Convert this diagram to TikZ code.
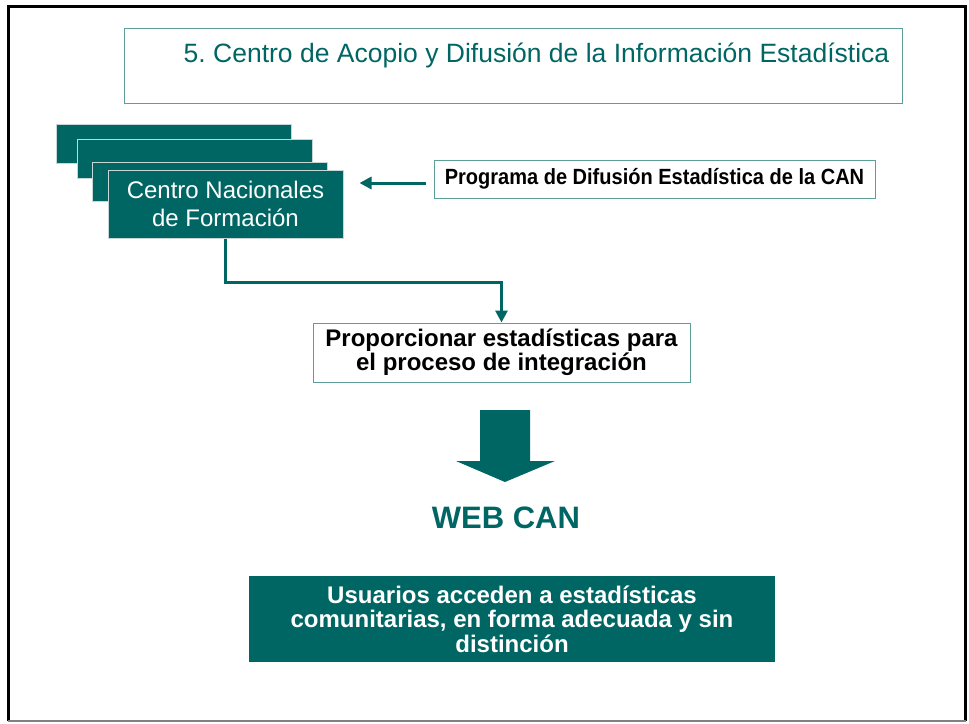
\documentclass[tikz,border=0pt]{standalone}
\usepackage{fontspec}
\setmainfont{Liberation Sans}
\newfontfamily\narrowfont{Liberation Sans}[FakeStretch=0.91]
\usepackage{xcolor}
\definecolor{canTeal}{HTML}{006663}
\definecolor{canBorder}{HTML}{5E9E99}
\definecolor{canEdge}{HTML}{C8D6D5}
\usepackage{tikz}
\usetikzlibrary{arrows.meta,positioning,calc}
\frenchspacing
\tikzset{
    titlebox/.style={
        draw=canBorder,
        fill=white,
        rectangle,
        line width=1pt,
        minimum width=778pt,
        minimum height=75pt
    },
    stackbox/.style={
        draw=canEdge,
        fill=canTeal,
        rectangle,
        line width=1pt,
        minimum width=235pt,
        minimum height=39pt
    },
    centro/.style={
        draw=canEdge,
        fill=canTeal,
        rectangle,
        line width=1pt,
        align=center,
        minimum width=235pt,
        minimum height=68pt,
        text=white,
        font=\fontsize{24}{28}\selectfont
    },
    infobox/.style={
        draw=canBorder,
        fill=white,
        rectangle,
        line width=1pt,
        align=center,
        inner sep=0pt,
        font=\bfseries
    },
    resultbox/.style={
        fill=canTeal,
        rectangle,
        align=center,
        inner sep=0pt,
        text=white,
        font=\bfseries\fontsize{24}{24.5}\selectfont
    },
    arrow/.style={
        -{Triangle[length=12pt,width=12pt]},
        line width=3pt,
        color=canTeal
    }
}

\begin{document}
\begin{tikzpicture}[x=1pt,y=-1pt]
    \useasboundingbox (0,0) rectangle (969,723);
    % Page frame
    \draw[black, line width=3pt] (8,721) -- (8,6) -- (965.5,6) -- (965.5,721);
    \draw[gray, line width=1.5pt] (8,721) -- (965.5,721);

    % Title
    \node[titlebox] (titlebox) at (513,65.5) {};
    \node[anchor=base, text=canTeal, inner sep=0pt, font=\fontsize{26.5}{30}\selectfont] (title) at (536.5,62)
        {5. Centro de Acopio y Difusión de la Información Estadística};

    % Stacked centres
    \foreach \sx/\sy [count=\i] in {56/124, 77/139, 92/162} {
        \node[stackbox] (stack\i) at (\sx+117.5,\sy+19.5) {};
    }
    \node[centro] (centro) at (225.5,204) {Centro Nacionales\\de Formación};

    % Programme box
    \node[infobox, minimum width=441pt, minimum height=38pt, font=\narrowfont\bfseries\fontsize{22}{24}\selectfont] (programa) at (654.5,179)
        {Programa de Difusión Estadística de la CAN};
    \draw[arrow] ([xshift=-8pt,yshift=-4pt]programa.west) -- ([xshift=16pt,yshift=-4pt]programa.west -| centro.east);

    % Statistics box
    \node[infobox, minimum width=377pt, minimum height=59pt, font=\bfseries\fontsize{24}{24}\selectfont] (proporcionar) at (501.5,352.5)
        {Proporcionar estadísticas para\\el proceso de integración};
    \draw[arrow] (centro.south) -- ++(0,44) -| (proporcionar.north);

    % Big arrow
    \fill[canTeal] (480,410) -- (530,410) -- (530,461) -- (555,461) -- (505,482)
        -- (456,461) -- (480,461) -- cycle;

    % Web
    \node[text=canTeal, font=\bfseries\fontsize{31}{34}\selectfont] (web) at (506,518) {WEB CAN};

    % Users
    \node[resultbox, minimum width=526pt, minimum height=86pt] (usuarios) at (512,619)
        {Usuarios acceden a estadísticas\\comunitarias, en forma adecuada y sin\\distinción};
\end{tikzpicture}
\end{document}
